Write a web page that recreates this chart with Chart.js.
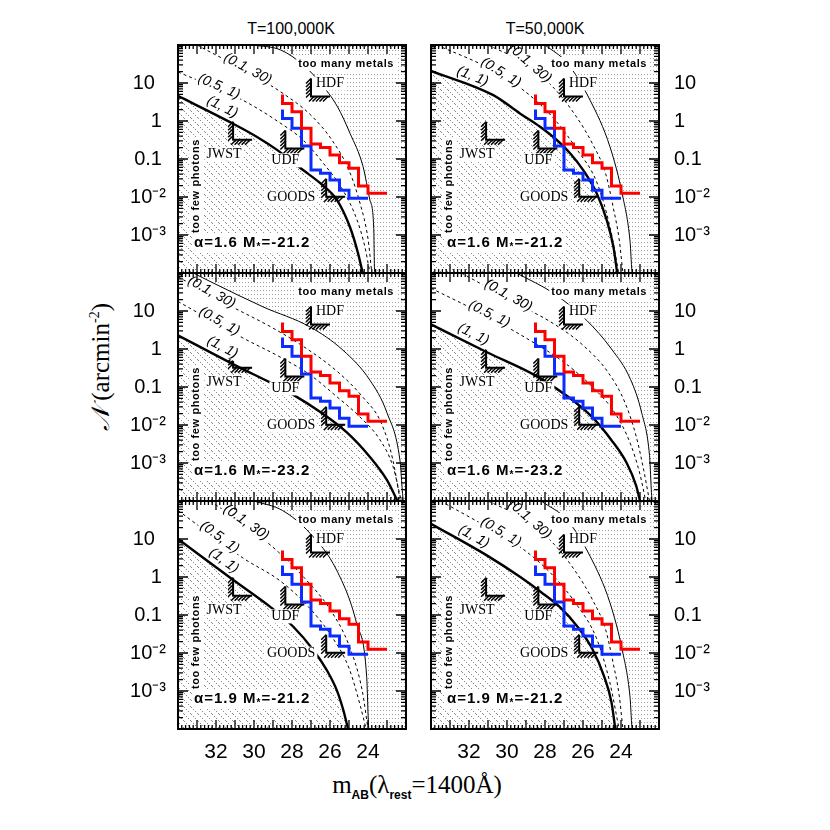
<!DOCTYPE html>
<html>
<head>
<meta charset="utf-8">
<script src="https://cdn.jsdelivr.net/npm/chart.js@4"></script>
<style>
  html, body { margin: 0; padding: 0; background: #fff; }
  #page { position: relative; width: 830px; height: 830px; overflow: hidden; }
  .lbl { position: absolute; white-space: nowrap; color: #000; }
  canvas { position: absolute; }
</style>
</head>
<body>
<div id="page">
  <div class="lbl" style="left:291px;top:20px;transform:translateX(-50%);font:16px 'Liberation Sans'">T=100,000K</div>
  <div class="lbl" style="left:545px;top:20px;transform:translateX(-50%);font:16px 'Liberation Sans'">T=50,000K</div>
  <div class="lbl" style="left:101px;top:367px;transform:translate(-50%,-50%) rotate(-90deg);font:25px 'Liberation Serif'"><i>𝒩</i> (arcmin<sup style="font-size:14px">-2</sup>)</div>
  <div class="lbl" style="left:417px;top:771px;transform:translateX(-50%);font:25px 'Liberation Serif'">m<sub style="font:bold 12px 'Liberation Sans'">AB</sub>(λ<sub style="font:bold 12px 'Liberation Sans'">rest</sub>=1400Å)</div>
</div>
<script>
// axes
const xTickVals = [32, 30, 28, 26, 24];
const yTickVals = [10, 1, 0.1, 0.01, 0.001];
const yTickLeft = ['10\u2007', '1\u2009', '0.1\u2009', '10⁻²', '10⁻³'];
const yTickRight = ['10', '1', '0.1', '10⁻²', '10⁻³'];

// step histograms (same in every panel)
const redEdges = [28.5, 28, 27.5, 27, 26.5, 26, 25.5, 25, 24.5, 24, 23.5, 23];
const redN = [5.0, 2.9, 1.76, 0.64, 0.25, 0.20, 0.127, 0.080, 0.057, 0.0195, 0.0125];
const blueEdges = [28.5, 28, 27.5, 27, 26.5, 26, 25.5, 25, 24.5, 24];
const blueN = [2.0, 1.17, 0.64, 0.22, 0.051, 0.042, 0.028, 0.015, 0.0093];

// survey limits
const surveyNames = ['JWST', 'UDF', 'GOODS', 'HDF'];
const surveyMag = [31.1, 28.35, 26.2, 27.0];
const surveyN = [0.32, 0.19, 0.0102, 4.4];

// panel order: TL, TR, ML, MR, BL, BR ; curve values are log10 N
const thickMag = [
  [34, 31.26, 29.84, 28.79, 27.42, 26.53, 25.63, 24.95, 24.53, 24.28],
  [34, 30.72, 29.32, 28.26, 27.38, 26.68, 25.98, 25.28, 24.75, 24.4, 24.2],
  [34, 30.9, 29.16, 27.95, 26.53, 25.1, 23.9, 23.0, 22.45],
  [34, 31, 28.5, 26.8, 25.5, 24.5, 23.7, 23.2, 23.0],
  [34, 31.09, 29.16, 27.93, 26.88, 26.17, 25.65, 25.3, 25.05],
  [34, 31, 29.3, 28.2, 27.2, 26.3, 25.5, 24.9, 24.5, 24.3]
];
const thickLog = [
  [0.66, -0.03, -0.42, -0.76, -1.29, -1.63, -2.08, -2.79, -3.47, -4],
  [1.32, 0.68, 0.20, -0.15, -0.5, -0.85, -1.30, -1.90, -2.61, -3.31, -4],
  [0.36, -0.45, -0.88, -1.2, -1.65, -2.2, -2.84, -3.45, -4],
  [0.65, -0.1, -0.7, -1.25, -1.8, -2.4, -3.0, -3.6, -4],
  [1.0, -0.08, -0.78, -1.31, -1.92, -2.45, -2.97, -3.5, -4],
  [1.4, 0.55, 0.0, -0.4, -0.8, -1.3, -1.9, -2.6, -3.3, -4]
];
const dashAMag = [
  [34, 30.6, 28.63, 27.42, 26.37, 25.32, 24.58, 24.16, 23.9],
  [33.7, 31, 29.16, 27.6, 26.3, 25.26, 24.58, 24.12],
  [34, 30.58, 28.63, 27.05, 25.63, 24.42, 23.37, 22.68, 22.25],
  [34, 31, 28.7, 27.0, 25.5, 24.3, 23.5, 23.0, 22.7],
  [34, 30.58, 28.63, 27.2, 26.0, 25.0, 24.4, 24.1],
  [33.5, 31, 29.2, 27.6, 26.3, 25.3, 24.6, 24.1]
];
const dashALog = [
  [1.29, 0.55, -0.05, -0.5, -1.1, -1.82, -2.6, -3.32, -4],
  [2, 1.4, 0.82, 0.1, -0.76, -1.63, -2.79, -4],
  [1.25, 0.29, -0.21, -0.68, -1.26, -1.79, -2.39, -3.1, -4],
  [1.6, 0.85, 0.2, -0.35, -1.0, -1.7, -2.5, -3.3, -4],
  [1.75, 0.5, -0.1, -0.75, -1.5, -2.4, -3.4, -4],
  [2, 1.3, 0.75, 0.05, -0.75, -1.6, -2.75, -4]
];
const dashBMag = [
  [33.0, 30.2, 28.4, 27.0, 25.9, 25.0, 24.4, 24.0, 23.8],
  [31.0, 29.0, 27.5, 26.4, 25.5, 24.8, 24.4, 24.1, 23.9],
  [34, 31.5, 29, 27.2, 25.6, 24.3, 23.3, 22.7, 22.3],
  [32.4, 29.5, 27.5, 26, 24.7, 23.8, 23.2, 22.8, 22.5],
  [32.3, 30.3, 28.7, 27.3, 26.0, 25.0, 24.3, 24.0],
  [31.0, 29.0, 27.5, 26.4, 25.5, 24.8, 24.4, 24.1, 23.9]
];
const dashBLog = [
  [2, 1.25, 0.7, 0.15, -0.5, -1.3, -2.2, -3.1, -4],
  [2, 1.5, 0.85, 0.15, -0.6, -1.4, -2.3, -3.1, -4],
  [1.9, 1.2, 0.55, 0.0, -0.6, -1.25, -1.95, -2.9, -4],
  [2, 1.2, 0.65, 0.1, -0.6, -1.4, -2.3, -3.2, -4],
  [2, 1.3, 0.65, -0.05, -0.85, -1.8, -3.0, -4],
  [2, 1.5, 0.85, 0.15, -0.6, -1.4, -2.3, -3.1, -4]
];
const thinMag = [
  [30.05, 28.6, 27.4, 26.5, 25.6, 24.95, 24.26, 23.9, 23.7, 23.65, 22],
  [28.0, 26.84, 25.63, 24.58, 23.9, 23.53, 23.4, 22],
  [33.2, 32.16, 29.53, 27.05, 25.32, 23.9, 23.0, 22.32, 22.12, 22],
  [29.5, 27.5, 25.8, 24.5, 23.5, 22.9, 22.5, 22.35, 22],
  [30.0, 28.5, 27.05, 25.65, 24.6, 24.07, 23.95, 22],
  [28.2, 26.84, 25.63, 24.58, 23.9, 23.53, 23.4, 22]
];
const thinLog = [
  [2, 1.87, 1.47, 1.0, 0.37, -0.32, -1.2, -2.08, -2.79, -4, -4],
  [2, 1.53, 0.55, -0.68, -2.0, -3.13, -4, -4],
  [2, 1.74, 1.11, 0.58, -0.03, -0.82, -1.68, -2.92, -4, -4],
  [2, 1.45, 0.75, 0.0, -0.8, -1.7, -2.8, -4, -4],
  [2, 1.75, 1.15, 0.18, -1.22, -2.62, -4, -4],
  [2, 1.5, 0.55, -0.68, -2.0, -3.13, -4, -4]
];

// curve labels and the magnitude where each sits on its curve
const curveLabels = ['(1, 1)', '(0.5, 1)', '(0.1, 30)'];
const labelMag = [
  [31.9, 31.9, 30.4],
  [32.0, 30.4, 28.9],
  [31.9, 31.9, 32.3],
  [32.0, 31.0, 30.0],
  [31.9, 31.9, 30.5],
  [32.0, 30.4, 28.9]
];
const alphaText = ['1.6', '1.6', '1.6', '1.6', '1.9', '1.9'];
const mStarText = ['-21.2', '-21.2', '-23.2', '-23.2', '-21.2', '-21.2'];

function pts(ms, ls) {
  return ms.map((m, k) => ({ x: m, y: Math.pow(10, ls[k]) }));
}
function stepPts(edges, vals) {
  return edges.map((m, k) => ({ x: m, y: vals[Math.min(k, vals.length - 1)] }));
}

function hatchPattern() {
  const c = document.createElement('canvas');
  c.width = 7; c.height = 7;
  const g = c.getContext('2d');
  g.fillStyle = '#8c8c8c';
  for (let i = 0; i < 7; i += 2) g.fillRect(i, i, 1, 1);
  return g.createPattern(c, 'repeat');
}
function dotPattern() {
  const c = document.createElement('canvas');
  c.width = 3; c.height = 4;
  const g = c.getContext('2d');
  g.fillStyle = '#a0a0a0';
  g.fillRect(1, 1, 1, 1);
  return g.createPattern(c, 'repeat');
}

function curveAt(xs, ls, m, sx, sy) {
  for (let k = 0; k < xs.length - 1; k++) {
    if ((xs[k] - m) * (xs[k + 1] - m) <= 0) {
      const x0 = sx.getPixelForValue(xs[k]), x1 = sx.getPixelForValue(xs[k + 1]);
      const y0 = sy.getPixelForValue(Math.pow(10, ls[k])), y1 = sy.getPixelForValue(Math.pow(10, ls[k + 1]));
      const t = (m - xs[k]) / (xs[k + 1] - xs[k]);
      return { x: x0 + t * (x1 - x0), y: y0 + t * (y1 - y0), a: Math.atan2(y1 - y0, x1 - x0) };
    }
  }
  return null;
}

function boxedText(ctx, txt, x, y, align) {
  const w = ctx.measureText(txt).width;
  const x0 = align === 'right' ? x - w : (align === 'center' ? x - w / 2 : x);
  ctx.fillStyle = '#fff';
  ctx.fillRect(x0 - 2, y - 7, w + 4, 14);
  ctx.fillStyle = '#000';
  ctx.fillText(txt, x, y);
}

const framePlugin = {
  id: 'frame',
  afterDatasetsDraw(chart) {
    const ctx = chart.ctx, a = chart.chartArea;
    const sx = chart.scales.x, sy = chart.scales.y;
    const p = chart.options.plugins.frame.panel;
    ctx.save();
    ctx.beginPath();
    ctx.rect(a.left, a.top, a.right - a.left, a.bottom - a.top);
    ctx.clip();

    // survey limit corners
    surveyNames.forEach((name, k) => {
      const cx = sx.getPixelForValue(surveyMag[k]);
      const cy = sy.getPixelForValue(surveyN[k]);
      ctx.strokeStyle = '#000';
      ctx.lineWidth = 2;
      ctx.beginPath();
      ctx.moveTo(cx, cy - 18);
      ctx.lineTo(cx, cy);
      ctx.lineTo(cx + 19, cy);
      ctx.stroke();
      ctx.lineWidth = 1.5;
      ctx.beginPath();
      for (let j = 2; j <= 16; j += 3.5) {
        ctx.moveTo(cx - 5, cy - j + 3);
        ctx.lineTo(cx, cy - j - 2);
      }
      for (let j = 2; j <= 18; j += 3.5) {
        ctx.moveTo(cx + j - 4, cy + 5);
        ctx.lineTo(cx + j + 1, cy);
      }
      ctx.stroke();
    });
    ctx.font = '14px "Liberation Serif"';
    ctx.textAlign = 'center';
    ctx.textBaseline = 'middle';
    const off = { JWST: [-9, 15], UDF: [0, 12], GOODS: [-35, 1], HDF: [19, -13] };
    surveyNames.forEach((name, k) => {
      const cx = sx.getPixelForValue(surveyMag[k]) + off[name][0];
      const cy = sy.getPixelForValue(surveyN[k]) + off[name][1];
      boxedText(ctx, name, cx, cy, 'center');
    });

    // curve labels
    const cm = [thickMag[p], dashAMag[p], dashBMag[p]];
    const cl = [thickLog[p], dashALog[p], dashBLog[p]];
    const lift = [10, 3, 3];
    ctx.font = 'italic 14px "Liberation Sans"';
    curveLabels.forEach((txt, k) => {
      const q = curveAt(cm[k], cl[k], labelMag[p][k], sx, sy);
      if (!q) return;
      let ang = q.a;
      if (ang > Math.PI / 2) ang -= Math.PI;
      if (ang < -Math.PI / 2) ang += Math.PI;
      ctx.save();
      ctx.translate(q.x + lift[k] * Math.sin(ang), q.y - lift[k] * Math.cos(ang));
      ctx.rotate(ang);
      boxedText(ctx, txt, 0, 0, 'center');
      ctx.restore();
    });

    // region names and parameters
    ctx.font = 'bold 11px "Liberation Sans"';
    ctx.letterSpacing = '0.6px';
    ctx.textAlign = 'right';
    boxedText(ctx, 'too many metals', a.right - 12, a.top + 19, 'right');
    ctx.save();
    ctx.translate(a.left + 18, a.top + 141);
    ctx.rotate(-Math.PI / 2);
    ctx.textAlign = 'center';
    boxedText(ctx, 'too few photons', 0, 0, 'center');
    ctx.restore();

    ctx.textAlign = 'left';
    ctx.letterSpacing = '1px';
    ctx.font = 'bold 15px "Liberation Sans"';
    const t1 = 'α=' + alphaText[p] + ' M';
    const t2 = '=' + mStarText[p];
    const w1 = ctx.measureText(t1).width;
    ctx.font = 'bold 10px "Liberation Sans"';
    const ws = ctx.measureText('*').width;
    ctx.font = 'bold 15px "Liberation Sans"';
    const w2 = ctx.measureText(t2).width;
    const bx = a.left + 16, by = a.bottom - 30;
    ctx.fillStyle = '#fff';
    ctx.fillRect(bx - 2, by - 9, w1 + ws + w2 + 4, 18);
    ctx.fillStyle = '#000';
    ctx.fillText(t1, bx, by);
    ctx.font = 'bold 10px "Liberation Sans"';
    ctx.fillText('*', bx + w1, by + 4);
    ctx.font = 'bold 15px "Liberation Sans"';
    ctx.fillText(t2, bx + w1 + ws, by);
    ctx.restore();
  },
  afterDraw(chart) {
    const ctx = chart.ctx, a = chart.chartArea;
    const sx = chart.scales.x, sy = chart.scales.y;
    ctx.save();
    ctx.strokeStyle = '#000';
    ctx.lineWidth = 1.3;
    ctx.beginPath();
    for (let m = 22; m <= 34.001; m += 0.2) {
      const x = sx.getPixelForValue(m);
      const major = Math.abs(m - Math.round(m)) < 0.01;
      const len = major ? 9 : 4;
      ctx.moveTo(x, a.bottom); ctx.lineTo(x, a.bottom - len);
      ctx.moveTo(x, a.top); ctx.lineTo(x, a.top + len);
    }
    for (let e = -4; e < 2; e++) {
      for (let d = 1; d <= 9; d++) {
        const v = d * Math.pow(10, e);
        const y = sy.getPixelForValue(v);
        const len = d === 1 ? 10 : 5;
        ctx.moveTo(a.left, y); ctx.lineTo(a.left + len, y);
        ctx.moveTo(a.right, y); ctx.lineTo(a.right - len, y);
      }
    }
    ctx.stroke();
    ctx.lineWidth = 2;
    ctx.strokeRect(a.left, a.top, a.right - a.left, a.bottom - a.top);
    ctx.restore();
  }
};

const hatch = hatchPattern();
const dots = dotPattern();
const page = document.getElementById('page');

[0, 1, 2, 3, 4, 5].forEach(p => {
  const col = p % 2, row = Math.floor(p / 2);
  const plotL = col ? 431 : 178;
  const plotT = 45 + row * 228;
  const yW = col ? 81 : 78;
  const xH = row === 2 ? 40 : 0;
  const cv = document.createElement('canvas');
  const w = yW + 228 + 4;
  const h = 4 + 228 + (row === 2 ? xH : 4);
  cv.width = w; cv.height = h;
  cv.style.width = w + 'px'; cv.style.height = h + 'px';
  cv.style.left = (col ? plotL - 4 : plotL - yW) + 'px';
  cv.style.top = (plotT - 4) + 'px';
  page.appendChild(cv);
  const yText = col ? yTickRight : yTickLeft;

  new Chart(cv, {
    type: 'line',
    data: {
      datasets: [
        { data: stepPts(redEdges, redN), borderColor: '#ff0000', borderWidth: 3, stepped: 'after', pointRadius: 0, fill: false },
        { data: stepPts(blueEdges, blueN), borderColor: '#0a2cff', borderWidth: 3, stepped: 'after', pointRadius: 0, fill: false },
        { data: pts(thickMag[p], thickLog[p]), borderColor: '#000', borderWidth: 2.4, pointRadius: 0,
          cubicInterpolationMode: 'monotone', fill: 'start', backgroundColor: hatch },
        { data: pts(dashAMag[p], dashALog[p]), borderColor: '#000', borderWidth: 1, borderDash: [3, 3], pointRadius: 0,
          cubicInterpolationMode: 'monotone', fill: false },
        { data: pts(dashBMag[p], dashBLog[p]), borderColor: '#000', borderWidth: 1, borderDash: [3, 3], pointRadius: 0,
          cubicInterpolationMode: 'monotone', fill: false },
        { data: pts(thinMag[p], thinLog[p]), borderColor: '#000', borderWidth: 1, pointRadius: 0,
          cubicInterpolationMode: 'monotone', fill: 'end', backgroundColor: dots }
      ]
    },
    options: {
      responsive: false,
      animation: false,
      events: [],
      layout: { padding: { left: col ? 4 : 0, right: col ? 0 : 4, top: 4, bottom: row === 2 ? 0 : 4 } },
      plugins: { legend: { display: false }, tooltip: { enabled: false }, frame: { panel: p } },
      scales: {
        x: {
          type: 'linear', min: 22, max: 34, reverse: true,
          display: row === 2,
          afterFit: s => { s.height = xH; s.paddingLeft = 0; s.paddingRight = 0; },
          afterBuildTicks: s => { s.ticks = xTickVals.map(v => ({ value: v })); },
          grid: { display: false, drawTicks: false }, border: { display: false },
          ticks: { color: '#000', padding: 11, font: { family: 'Liberation Sans', size: 21 }, maxRotation: 0 }
        },
        y: {
          type: 'logarithmic', min: 1e-4, max: 100,
          position: col ? 'right' : 'left',
          afterFit: s => { s.width = yW; s.paddingTop = 0; s.paddingBottom = 0; },
          afterBuildTicks: s => { s.ticks = yTickVals.map(v => ({ value: v })); },
          grid: { display: false, drawTicks: false }, border: { display: false },
          ticks: { color: '#000', padding: col ? 15 : 12, font: { family: 'Liberation Sans', size: 20 },
            callback: (v, i) => yText[i] }
        }
      }
    },
    plugins: [framePlugin]
  });
});
</script>
</body>
</html>
